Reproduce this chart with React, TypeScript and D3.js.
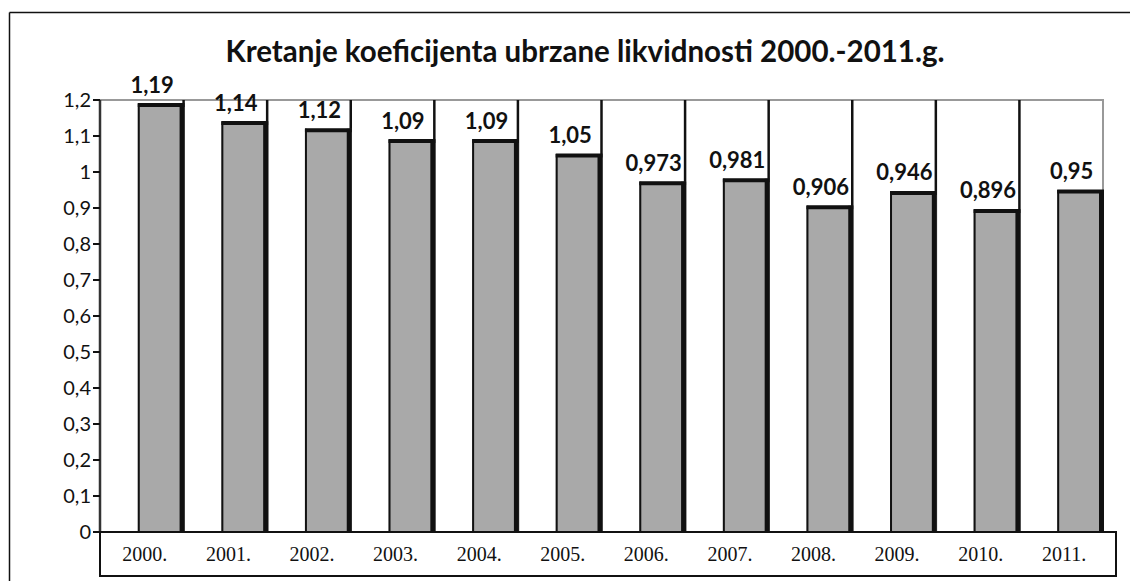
import React from "react";
import * as d3 from "d3";

const years = ["2000.", "2001.", "2002.", "2003.", "2004.", "2005.", "2006.", "2007.", "2008.", "2009.", "2010.", "2011."];
const values = [1.19, 1.14, 1.12, 1.09, 1.09, 1.05, 0.973, 0.981, 0.906, 0.946, 0.896, 0.95];
const valueLabels = ["1,19", "1,14", "1,12", "1,09", "1,09", "1,05", "0,973", "0,981", "0,906", "0,946", "0,896", "0,95"];
const yTicks = [0, 0.1, 0.2, 0.3, 0.4, 0.5, 0.6, 0.7, 0.8, 0.9, 1, 1.1, 1.2];
const title = "Kretanje koeficijenta ubrzane likvidnosti 2000.-2011.g.";

const W = 1130;
const H = 581;
const plot = { left: 100, right: 1103, top: 100, bottom: 532 };
const sans = "Lato, 'Open Sans', sans-serif";
const serif = "'Liberation Serif', 'Times New Roman', serif";

export default function App() {
  const x = d3.scaleBand<string>().domain(years).range([plot.left, plot.right]).paddingInner(0).paddingOuter(0);
  const y = d3.scaleLinear().domain([0, 1.2]).range([plot.bottom, plot.top]);
  const bw = x.bandwidth();
  const barW = bw * 0.56;
  const fmt = (v: number) => (v === 0 ? "0" : v === 1 ? "1" : d3.format(".1f")(v).replace(".", ","));

  return (
    <svg width={W} height={H} style={{ position: "absolute", left: 0, top: 0, background: "#fff" }}>
      <rect x={0} y={0} width={W} height={H} fill="#fff" />
      {/* outer frame (top and left edges) */}
      <line x1={9.5} x2={W} y1={12.5} y2={12.5} stroke="#111" strokeWidth={1.5} />
      <line x1={9.5} x2={9.5} y1={12.5} y2={H} stroke="#111" strokeWidth={1.5} />
      {/* title */}
      <text x={585} y={62} textAnchor="middle" fontFamily={sans} fontWeight={700} fontSize={29.5} fill="#111">
        {title}
      </text>
      {/* plot area border */}
      <rect x={plot.left} y={plot.top} width={plot.right - plot.left} height={plot.bottom - plot.top} fill="#fff" stroke="#999" strokeWidth={2} />
      {/* vertical gridlines at category boundaries */}
      {years.slice(1).map((yr) => (
        <line key={"g" + yr} x1={x(yr)!} x2={x(yr)!} y1={plot.top} y2={plot.bottom} stroke="#111" strokeWidth={2.5} />
      ))}
      {/* bars */}
      {years.map((yr, i) => {
        const x1 = (x(yr) as number) + bw + 1;
        const x0 = x1 - barW;
        const yt = y(values[i]);
        return (
          <g key={"b" + yr}>
            <rect x={x0} y={yt} width={barW} height={plot.bottom - yt} fill="#a9a9a9" />
            <line x1={x0 + 1} x2={x0 + 1} y1={yt} y2={plot.bottom} stroke="#111" strokeWidth={2} />
            <line x1={x0} x2={x1} y1={yt + 1.5} y2={yt + 1.5} stroke="#111" strokeWidth={4} />
            <line x1={x1 - 2.5} x2={x1 - 2.5} y1={yt} y2={plot.bottom} stroke="#111" strokeWidth={5} />
            <text x={x0 + barW / 2 - 9} y={yt - 11} textAnchor="middle" fontFamily={sans} fontWeight={700} fontSize={22} fill="#111">
              {valueLabels[i]}
            </text>
          </g>
        );
      })}
      {/* y axis */}
      <line x1={plot.left} x2={plot.left} y1={plot.top} y2={plot.bottom} stroke="#333" strokeWidth={2.5} />
      {yTicks.map((t) => (
        <g key={"t" + t}>
          <line x1={plot.left - 7} x2={plot.left} y1={y(t)} y2={y(t)} stroke="#111" strokeWidth={2} />
          <text x={plot.left - 9} y={y(t)} dy="0.36em" textAnchor="end" fontFamily={sans} fontSize={20} fill="#111">
            {fmt(t)}
          </text>
        </g>
      ))}
      {/* category label box */}
      <rect x={plot.left} y={plot.bottom} width={1116 - plot.left} height={44} fill="#fff" stroke="#111" strokeWidth={2} />
      {years.map((yr) => (
        <text key={"c" + yr} x={(x(yr) as number) + bw / 2 + 3} y={561} textAnchor="middle" fontFamily={serif} fontSize={20} fill="#111">
          {yr}
        </text>
      ))}
    </svg>
  );
}
